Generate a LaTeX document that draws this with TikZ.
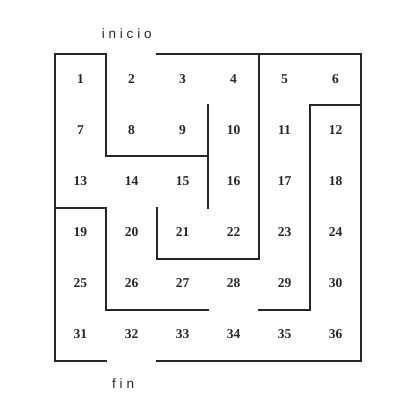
\documentclass[tikz,border=0pt]{standalone}
\usepackage{fontspec}
\setmainfont{Liberation Serif}
\newfontfamily\labfont[LetterSpace=28]{Liberation Sans}
\begin{document}
\begin{tikzpicture}[x=1pt,y=-1pt,
  wall/.style={line width=1.3pt, black!85, line join=miter, line cap=rect},
  num/.style={font=\bfseries\fontsize{13.5}{13.5}\selectfont, inner sep=0pt, text=black!85},
  lab/.style={font=\labfont\fontsize{13.5}{13.5}\selectfont, inner sep=0pt, anchor=base west, text=black!85}]
\useasboundingbox (0,0) rectangle (402,416);
\fill[white] (0,0) rectangle (402,416);
% cell numbers
\foreach \r in {0,...,5}{
  \foreach \c in {1,...,6}{
    \pgfmathtruncatemacro\n{6*\r+\c}
    \node[num] (c\n) at ({55+51*(\c-1)+25.5},{54+51*\r+25.5}) {\n};
  }
}
% labels
\node[lab] (inicio) at (101.7,38) {inicio};
\node[lab] (fin) at (112,388) {fin};
% walls
\draw[wall] (208,156) -- (106,156) -- (106,54) -- (55,54) -- (55,361) -- (106,361);
\draw[wall] (208,105) -- (208,208);
\draw[wall] (157,54) -- (361,54) -- (361,361) -- (157,361);
\draw[wall] (259,54) -- (259,259) -- (157,259) -- (157,208);
\draw[wall] (361,105) -- (310,105) -- (310,310) -- (259,310);
\draw[wall] (55,208) -- (106,208) -- (106,310) -- (208,310);
\end{tikzpicture}
\end{document}
